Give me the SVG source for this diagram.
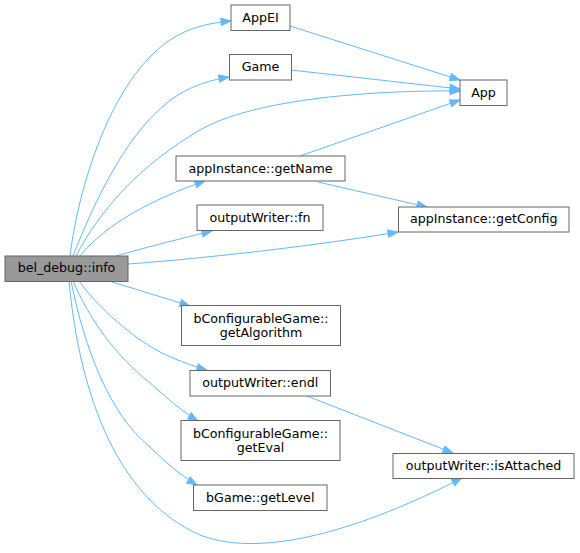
<svg xmlns="http://www.w3.org/2000/svg" width="580" height="553" viewBox="0 0 580 553">
<style>
.n rect{fill:#ffffff;stroke:#666666;stroke-width:1}
.n.cur rect{fill:#999999}
.n text{font-family:"DejaVu Sans","Liberation Sans",sans-serif;font-size:12.65px;fill:#000000;text-anchor:middle}
.e path{fill:none;stroke:#63b8ff;stroke-width:1;marker-end:url(#ah)}
</style>
<defs>
<marker id="ah" markerUnits="userSpaceOnUse" markerWidth="12" markerHeight="10" viewBox="-11 -5 12 10" refX="0" refY="0" orient="auto">
<path d="M-10,-3.6 L0,0 L-10,3.6 z" fill="#63b8ff" stroke="#63b8ff" stroke-width="1"/>
</marker>
</defs>
<rect width="580" height="553" fill="#ffffff"/>
<g id="edges" class="e">
<path d="M70,256 C78,190 110,80 170,40 C188,28 208,23 231,21"/>
<path d="M73,256 C95,200 130,125 178,95 C192,86 210,80 229,77"/>
<path d="M76,256 C100,210 140,165 200,130 C250,101 360,90 460,91"/>
<path d="M80,256 C105,225 150,200 205,181"/>
<path d="M116,256 C140,249 175,240 212,231"/>
<path d="M128,264 C210,258 320,245 398,232"/>
<path d="M112,282 C135,289 165,298 190,306"/>
<path d="M79,281 C100,310 140,345 173,358 C185,363 196,367 207,370"/>
<path d="M73,281 C90,320 115,355 150,383 C165,396 180,410 198,421"/>
<path d="M71,281 C85,350 110,415 150,447 C163,460 180,475 197,485"/>
<path d="M69,281 C80,400 120,500 200,535 C270,562 380,520 462,478"/>
<path d="M290,26 L460,80"/>
<path d="M291,70 L460,89"/>
<path d="M300,156 L460,100"/>
<path d="M318,182 L427,207"/>
<path d="M307,396 L453,453"/>
</g>
<g id="bel_debug_info" class="n cur"><rect x="5" y="256" width="123" height="25.5"/><text x="66.5" y="272.3">bel_debug::info</text></g>
<g id="AppEI" class="n"><rect x="231" y="5" width="59" height="25.5"/><text x="260.5" y="21.5">AppEI</text></g>
<g id="Game" class="n"><rect x="229.5" y="54.5" width="62" height="25.5"/><text x="260.5" y="71">Game</text></g>
<g id="App" class="n"><rect x="460" y="80" width="47" height="25.5"/><text x="483.5" y="96.5">App</text></g>
<g id="getName" class="n"><rect x="176" y="156" width="169" height="25"/><text x="260.5" y="172.5">appInstance::getName</text></g>
<g id="getConfig" class="n"><rect x="398.5" y="207" width="170.5" height="25"/><text x="483.75" y="223.4">appInstance::getConfig</text></g>
<g id="fn" class="n"><rect x="197" y="205" width="126" height="25.5"/><text x="260" y="221.7">outputWriter::fn</text></g>
<g id="getAlgorithm" class="n"><rect x="181.5" y="305.5" width="159" height="40"/><text x="261" y="322.5">bConfigurableGame::</text><text x="261" y="337.3">getAlgorithm</text></g>
<g id="endl" class="n"><rect x="190" y="370.5" width="140.5" height="25.5"/><text x="260.25" y="387">outputWriter::endl</text></g>
<g id="getEval" class="n"><rect x="181" y="420.5" width="159" height="40"/><text x="260.5" y="437.5">bConfigurableGame::</text><text x="260.5" y="452.3">getEval</text></g>
<g id="getLevel" class="n"><rect x="193.5" y="485" width="133.5" height="25.5"/><text x="260.25" y="501.5">bGame::getLevel</text></g>
<g id="isAttached" class="n"><rect x="393" y="453.5" width="181" height="25"/><text x="483.5" y="470">outputWriter::isAttached</text></g>
</svg>
